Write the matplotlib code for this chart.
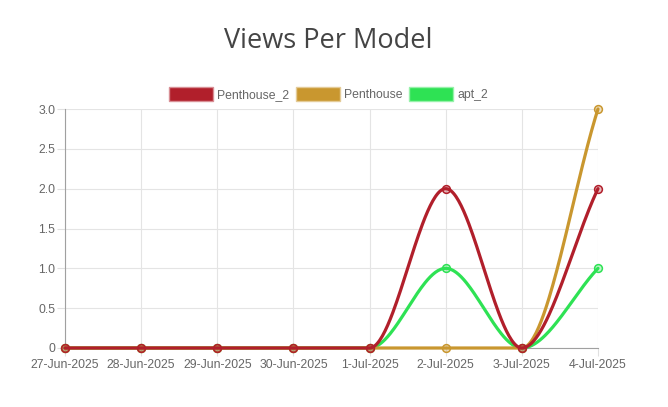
import numpy as np
import matplotlib
matplotlib.use("Agg")
import matplotlib.pyplot as plt
from matplotlib.patches import Rectangle
from matplotlib.colors import to_rgba

dates = ['27-Jun-2025', '28-Jun-2025', '29-Jun-2025', '30-Jun-2025',
         '1-Jul-2025', '2-Jul-2025', '3-Jul-2025', '4-Jul-2025']
series_names = ['Penthouse_2', 'Penthouse', 'apt_2']
penthouse_2 = [0, 0, 0, 0, 0, 2, 0, 2]
penthouse = [0, 0, 0, 0, 0, 0, 0, 3]
apt_2 = [0, 0, 0, 0, 0, 1, 0, 1]
colors = ['#b11f2b', '#c9972f', '#2ee254']
yticks = [0, 0.5, 1.0, 1.5, 2.0, 2.5, 3.0]
ytick_labels = ['0', '0.5', '1.0', '1.5', '2.0', '2.5', '3.0']
title = 'Views Per Model'


def monotone_curve(y, n=60):
    y = np.asarray(y, float)
    x = np.arange(len(y), dtype=float)
    d = np.diff(y) / np.diff(x)
    m = np.zeros(len(y))
    m[0] = d[0]
    m[-1] = d[-1]
    for i in range(1, len(y) - 1):
        if np.sign(d[i - 1]) != np.sign(d[i]):
            m[i] = 0.0
        else:
            m[i] = (d[i - 1] + d[i]) / 2
    for i in range(len(d)):
        if d[i] == 0:
            m[i] = 0.0
            m[i + 1] = 0.0
            continue
        a = m[i] / d[i]
        b = m[i + 1] / d[i]
        s = a * a + b * b
        if s > 9:
            t = 3 / np.sqrt(s)
            m[i] = a * t * d[i]
            m[i + 1] = b * t * d[i]
    xs, ys = [], []
    for i in range(len(d)):
        t = np.linspace(0, 1, n)
        h = x[i + 1] - x[i]
        h00 = 2 * t**3 - 3 * t**2 + 1
        h10 = t**3 - 2 * t**2 + t
        h01 = -2 * t**3 + 3 * t**2
        h11 = t**3 - t**2
        yy = h00 * y[i] + h10 * h * m[i] + h01 * y[i + 1] + h11 * h * m[i + 1]
        xs.append(x[i] + t * h)
        ys.append(yy)
    return np.concatenate(xs), np.concatenate(ys)


plt.rcParams['font.family'] = ['Liberation Sans', 'DejaVu Sans']
fig = plt.figure(figsize=(6.68, 4.07), dpi=100)
W, H = 668, 407
ax = fig.add_axes([65 / W, (H - 348) / H, (598 - 65) / W, (348 - 109) / H])

all_series = [penthouse_2, penthouse, apt_2]
x = np.arange(len(dates))
for k, (vals, col) in enumerate(zip(all_series, colors)):
    cx, cy = monotone_curve(vals)
    z = 3 - 0.1 * k
    ax.plot(cx, cy, color=col, lw=2.3, zorder=z, clip_on=False, solid_capstyle='round')
    ax.plot(x, vals, linestyle='none', marker='o', ms=5.6, mew=1.1,
            mec=col, mfc=to_rgba(col, 0.3), zorder=z + 0.01, clip_on=False)

ax.set_xlim(0, len(dates) - 1)
ax.set_ylim(0, 3)
ax.set_xticks(x)
ax.set_xticklabels(dates)
ax.set_yticks(yticks)
ax.set_yticklabels(ytick_labels)
ax.grid(True, color='#e4e4e4', lw=0.8, zorder=0)
ax.set_axisbelow(True)
for s in ['top', 'right']:
    ax.spines[s].set_visible(False)
ax.spines['left'].set_color('#a0a0a0')
ax.spines['bottom'].set_color('#a0a0a0')
ax.spines['left'].set_linewidth(0.8)
ax.spines['bottom'].set_linewidth(0.8)
ax.tick_params(axis='both', colors='#e0e0e0', labelcolor='#666666', labelsize=8.8,
               length=6, width=0.8)
ax.tick_params(axis='x', pad=2)
ax.tick_params(axis='y', pad=1)

fig.text(328 / W, (H - 48) / H, title, ha='center', va='baseline',
         fontsize=19.5, color='#444444', family=['Open Sans', 'DejaVu Sans'])

# legend
box_x = [169, 296, 409]
box_w, box_h = 44, 14
ly = 93.5
for bx, name, col in zip(box_x, series_names, colors):
    edge = tuple(np.array(to_rgba(col)[:3]) * 0.5 + 0.5)
    fig.patches.append(Rectangle((bx / W, (H - ly - box_h / 2) / H), box_w / W, box_h / H,
                                 transform=fig.transFigure, facecolor=col,
                                 edgecolor=edge, lw=1))
    fig.text((bx + box_w + 4) / W, (H - ly - 4.5) / H, name, ha='left', va='baseline',
             fontsize=8.8, color='#666666')

fig.savefig('out.png', dpi=100)
